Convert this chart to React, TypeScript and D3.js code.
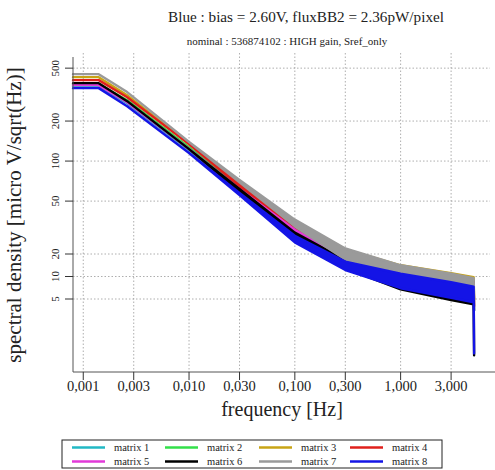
import React from "react";
import * as d3 from "d3";

// ---- data ----
const FREQ = [0.0008, 0.0014, 0.0026, 0.01, 0.03, 0.1, 0.3, 1, 3, 4.9, 4.95];
// multiplicative half-width of the noisy band at each frequency
const NOISE = [1, 1, 1, 1, 1.02, 1.06, 1.14, 1.25, 1.27, 1.27, 1];

const SERIES_NAMES = ["matrix 1", "matrix 2", "matrix 3", "matrix 4", "matrix 5", "matrix 6", "matrix 7", "matrix 8"];
const SERIES_COLORS = ["#22b8c4", "#33e04a", "#c8a416", "#e0201c", "#e23ad8", "#000000", "#9a9a9a", "#1414e6"];

const M1 = [366.2, 366.2, 272.6, 121.0, 59.5, 27.7, 15.2, 9.01, 6.72, 5.95, 3.5];
const M2 = [379.0, 379.0, 287.1, 127.4, 61.6, 28.7, 15.7, 9.17, 6.83, 6.05, 3.5];
const M3 = [427.9, 427.9, 313.2, 134.2, 68.3, 33.6, 19.0, 11.3, 8.71, 7.71, 5.0];
const M4 = [406.2, 406.2, 302.4, 134.2, 66.0, 30.8, 16.8, 10.2, 7.58, 6.72, 4.0];
const M5 = [372.6, 372.6, 277.3, 123.1, 60.5, 28.7, 15.4, 9.01, 6.72, 5.95, 3.5];
const M6 = [385.6, 385.6, 282.2, 123.1, 60.5, 27.3, 14.6, 8.41, 6.16, 5.36, 0.85];
const M7 = [450.6, 450.6, 330.2, 139.0, 70.7, 34.2, 19.3, 11.3, 8.56, 7.45, 5.0];
const M8 = [353.7, 353.7, 258.8, 114.9, 56.5, 25.9, 13.9, 8.71, 6.60, 5.74, 0.9];
const SERIES = [M1, M2, M3, M4, M5, M6, M7, M8];

const X_TICKS = [0.001, 0.003, 0.01, 0.03, 0.1, 0.3, 1, 3];
const X_TICK_LABELS = ["0,001", "0,003", "0,010", "0,030", "0,100", "0,300", "1,000", "3,000"];
const Y_TICKS = [5, 10, 20, 50, 100, 200, 500];
const Y_TICK_LABELS = ["5", "10", "20", "50", "100", "200", "500"];

const TITLE = "Blue : bias = 2.60V, fluxBB2 = 2.36pW/pixel";
const SUBTITLE = "nominal : 536874102 : HIGH gain, Sref_only";
const X_LABEL = "frequency [Hz]";
const Y_LABEL = "spectral density [micro V/sqrt(Hz)]";

const W = 495;
const H = 470;
const FONT = "'Liberation Serif', 'Times New Roman', serif";

export default function App() {
  const left = 73, right = 495, top = 53, bottom = 372;
  const x = d3.scaleLog().domain([0.0008, 7.8]).range([left, right]);
  // the reference's value axis is log-spaced but squeezed below 20
  const y = d3.scaleLog().domain([650, 20, 5, 0.5]).range([top, 254, 299, bottom]);

  const area = d3
    .area<number>()
    .x((_, i) => x(FREQ[i]))
    .y0((v, i) => y(v / NOISE[i]))
    .y1((v, i) => y(v * NOISE[i]));

  const legendX = [72, 165, 259, 350];
  const legendY = [447.5, 461.5];

  return (
    <svg width={W} height={H} style={{ position: "absolute", left: 0, top: 0, background: "#fff" }} fontFamily={FONT}>
      <rect x={0} y={0} width={W} height={H} fill="#fff" />
      <text x={306} y={22} textAnchor="middle" fontSize={15.2} fill="#222">{TITLE}</text>
      <text x={287} y={45} textAnchor="middle" fontSize={11} fill="#222">{SUBTITLE}</text>

      {/* grid */}
      {X_TICKS.map((t) => (
        <line key={"gx" + t} x1={x(t)} x2={x(t)} y1={top} y2={bottom} stroke="#999" strokeWidth={0.8} strokeDasharray="1.5,2" />
      ))}
      {Y_TICKS.map((t) => (
        <line key={"gy" + t} x1={left} x2={490} y1={y(t)} y2={y(t)} stroke="#999" strokeWidth={0.8} strokeDasharray="1.5,2" />
      ))}

      {/* series */}
      {SERIES.map((s, i) => (
        <path key={"s" + i} d={area(s) || ""} fill={SERIES_COLORS[i]} stroke={SERIES_COLORS[i]} strokeWidth={2.4} strokeLinejoin="round" />
      ))}

      {/* axes */}
      <line x1={left} x2={left} y1={57} y2={bottom} stroke="#555" strokeWidth={1} />
      <line x1={left} x2={right} y1={bottom} y2={bottom} stroke="#555" strokeWidth={1} />
      {X_TICKS.map((t, i) => (
        <g key={"xt" + t}>
          <line x1={x(t)} x2={x(t)} y1={bottom} y2={bottom + 8} stroke="#333" strokeWidth={1} />
          <text x={x(t)} y={391} textAnchor="middle" fontSize={14.5} fill="#222">{X_TICK_LABELS[i]}</text>
        </g>
      ))}
      {Y_TICKS.map((t, i) => (
        <g key={"yt" + t}>
          <line x1={left - 8} x2={left} y1={y(t)} y2={y(t)} stroke="#333" strokeWidth={1} />
          <text transform={`translate(59,${y(t)}) rotate(-90)`} textAnchor="middle" fontSize={11} fill="#222">{Y_TICK_LABELS[i]}</text>
        </g>
      ))}

      <text x={282} y={416} textAnchor="middle" fontSize={20} fill="#222">{X_LABEL}</text>
      <text transform={`translate(21,215) rotate(-90)`} textAnchor="middle" fontSize={21} fill="#222">{Y_LABEL}</text>

      {/* legend */}
      <rect x={62} y={440} width={380} height={28} fill="#fff" stroke="#222" strokeWidth={1} />
      {SERIES_NAMES.map((n, i) => {
        const cx = legendX[i % 4];
        const cy = legendY[Math.floor(i / 4)];
        return (
          <g key={"lg" + i}>
            <line x1={cx} x2={cx + 33} y1={cy} y2={cy} stroke={SERIES_COLORS[i]} strokeWidth={2.4} />
            <text x={cx + 42} y={cy + 3.5} fontSize={10.5} fill="#222">{n}</text>
          </g>
        );
      })}
    </svg>
  );
}
